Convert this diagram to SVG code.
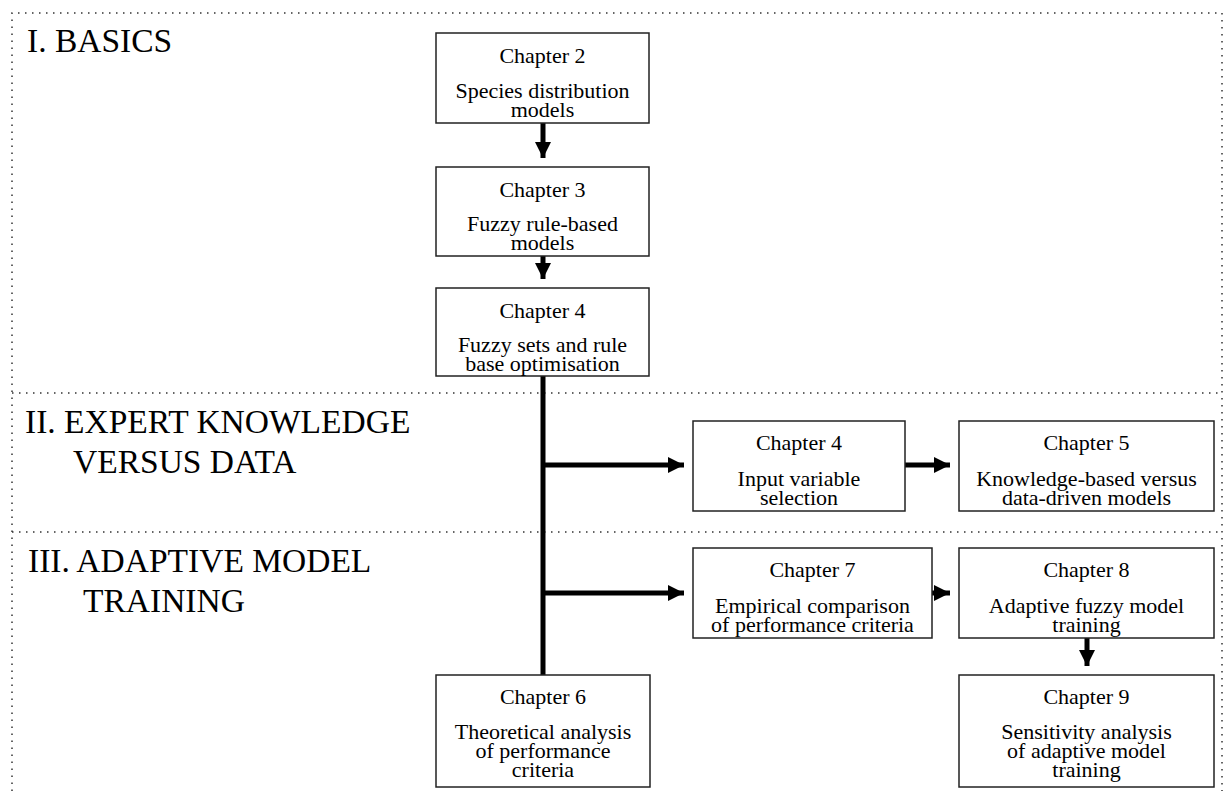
<svg xmlns="http://www.w3.org/2000/svg" width="1224" height="791" viewBox="0 0 1224 791">
<style>
.frame{fill:none;stroke:#333;stroke-width:1.5;stroke-dasharray:1.5 5.5}
.box{fill:#fff;stroke:#222;stroke-width:1.5}
.t{font-family:"Liberation Serif","Times New Roman",serif;font-size:22px;fill:#000;text-anchor:middle}
.sec{font-family:"Liberation Serif","Times New Roman",serif;font-size:33.5px;fill:#000}
.conn{stroke:#000;stroke-width:5;fill:none}
</style>
<defs>
<marker id="ah" markerUnits="userSpaceOnUse" markerWidth="16" markerHeight="16" refX="16" refY="8" orient="auto">
<path d="M0,0 L16,8 L0,16 z" fill="#000"/>
</marker>
</defs>
<g id="frame">
<path class="frame" d="M12,791 V13 H1222 V791"/>
<line class="frame" x1="12" y1="393" x2="1222" y2="393"/>
<line class="frame" x1="12" y1="532" x2="1222" y2="532"/>
</g>
<g id="sections">
<text class="sec" x="27" y="52">I. BASICS</text>
<text class="sec" x="25" y="433">II. EXPERT KNOWLEDGE</text>
<text class="sec" x="73" y="473">VERSUS DATA</text>
<text class="sec" x="28" y="572">III. ADAPTIVE MODEL</text>
<text class="sec" x="83" y="612">TRAINING</text>
</g>
<g id="connectors">
<line class="conn" x1="543" y1="123" x2="543" y2="158" marker-end="url(#ah)"/>
<line class="conn" x1="543" y1="256" x2="543" y2="279" marker-end="url(#ah)"/>
<line class="conn" x1="543" y1="376" x2="543" y2="675"/>
<line class="conn" x1="541" y1="465" x2="684" y2="465" marker-end="url(#ah)"/>
<line class="conn" x1="541" y1="593" x2="684" y2="593" marker-end="url(#ah)"/>
<line class="conn" x1="905" y1="465" x2="950" y2="465" marker-end="url(#ah)"/>
<line class="conn" x1="932" y1="593" x2="950" y2="593" marker-end="url(#ah)"/>
<line class="conn" x1="1087" y1="638" x2="1087" y2="666" marker-end="url(#ah)"/>
</g>
<g id="ch2">
<rect class="box" x="436" y="33" width="213" height="90"/>
<text class="t" x="542.5" y="63">Chapter 2</text>
<text class="t" x="542.5" y="97.5">Species distribution</text>
<text class="t" x="542.5" y="116.5">models</text>
</g>
<g id="ch3">
<rect class="box" x="436" y="167" width="213" height="89"/>
<text class="t" x="542.5" y="197">Chapter 3</text>
<text class="t" x="542.5" y="231">Fuzzy rule-based</text>
<text class="t" x="542.5" y="250">models</text>
</g>
<g id="ch4a">
<rect class="box" x="436" y="288" width="213" height="88"/>
<text class="t" x="542.5" y="318">Chapter 4</text>
<text class="t" x="542.5" y="351.5">Fuzzy sets and rule</text>
<text class="t" x="542.5" y="370.5">base optimisation</text>
</g>
<g id="ch4b">
<rect class="box" x="693" y="421" width="212" height="90"/>
<text class="t" x="799" y="450">Chapter 4</text>
<text class="t" x="799" y="485.5">Input variable</text>
<text class="t" x="799" y="504.5">selection</text>
</g>
<g id="ch5">
<rect class="box" x="959" y="421" width="255" height="90"/>
<text class="t" x="1086.5" y="450">Chapter 5</text>
<text class="t" x="1086.5" y="485.5">Knowledge-based versus</text>
<text class="t" x="1086.5" y="504.5">data-driven models</text>
</g>
<g id="ch7">
<rect class="box" x="693" y="548" width="239" height="90"/>
<text class="t" x="812.5" y="577">Chapter 7</text>
<text class="t" x="812.5" y="612.5">Empirical comparison</text>
<text class="t" x="812.5" y="631.5">of performance criteria</text>
</g>
<g id="ch8">
<rect class="box" x="959" y="548" width="255" height="90"/>
<text class="t" x="1086.5" y="577">Chapter 8</text>
<text class="t" x="1086.5" y="612.5">Adaptive fuzzy model</text>
<text class="t" x="1086.5" y="631.5">training</text>
</g>
<g id="ch6">
<rect class="box" x="436" y="675" width="214" height="112"/>
<text class="t" x="543" y="704">Chapter 6</text>
<text class="t" x="543" y="738.5">Theoretical analysis</text>
<text class="t" x="543" y="757.5">of performance</text>
<text class="t" x="543" y="776.5">criteria</text>
</g>
<g id="ch9">
<rect class="box" x="959" y="675" width="255" height="112"/>
<text class="t" x="1086.5" y="704">Chapter 9</text>
<text class="t" x="1086.5" y="738.5">Sensitivity analysis</text>
<text class="t" x="1086.5" y="757.5">of adaptive model</text>
<text class="t" x="1086.5" y="776.5">training</text>
</g>
</svg>
